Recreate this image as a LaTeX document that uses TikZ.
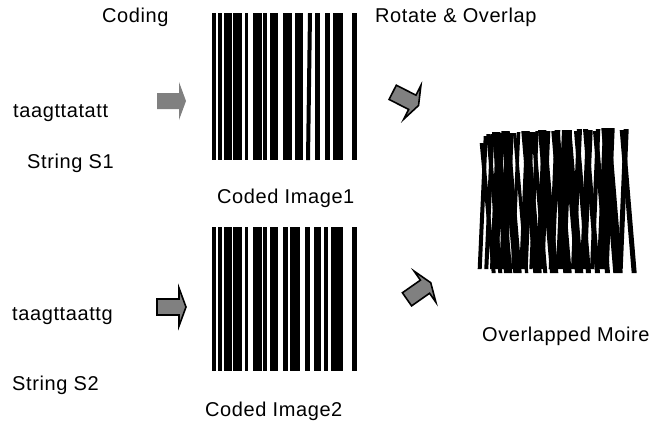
\documentclass[tikz,border=0pt]{standalone}
\usepackage{fontspec}
\setmainfont{Liberation Sans}[LetterSpace=3]
\begin{document}
\begin{tikzpicture}[x=1pt,y=-1pt,
  lbl/.style={anchor=base west, inner sep=0pt, font=\fontsize{20}{22}\selectfont},
  barfill/.style={fill=black},
  plainarrow/.style={fill=black!50, draw=none},
  framedarrow/.style={fill=black!50, draw=black, line width=1.6pt, line join=miter},
  pics/fatarrow/.style={code={
    \path[pic actions] (-22,-8) -- (0,-8) -- (0,-19) -- (7,0) -- (0,19) -- (0,8) -- (-22,8) -- cycle;}}
]
\useasboundingbox (0,0) rectangle (664,426);

% texts
\node[lbl] (coding) at (102,22.7) {Coding};
\node[lbl] (rotate) at (375,22.7) {Rotate \& Overlap};
\node[lbl] (s1) at (13,117) {taagttatatt};
\node[lbl] (s1lbl) at (27,168) {String S1};
\node[lbl] (img1lbl) at (217,203) {Coded Image1};
\node[lbl] (s2) at (12,320) {taagttaattg};
\node[lbl] (s2lbl) at (12,390) {String S2};
\node[lbl] (img2lbl) at (205,416) {Coded Image2};
\node[lbl] (moirelbl) at (482,341.7) {Overlapped Moire};

% coded image 1
\foreach \a/\b in {211.7/215.7, 218.3/222.3, 224/232.3, 233.3/241.7, 245/248.3, 253.3/261.7, 263.3/267.3, 270/278.3, 283.3/291.7, 295/303.3, 315/320, 325/330, 333.3/342.7, 351.7/356.7}
  \fill[barfill] (\a,13) rectangle (\b,160);
\fill[barfill] (308,13) -- (312,13) -- (310,160) -- (306,160) -- cycle;

% coded image 2
\foreach \a/\b in {211.7/215.7, 218.3/222.3, 224/232.3, 233.3/241.7, 245/248.3, 253.3/261.7, 263.3/266.7, 270/278.3, 282.7/288.3, 290/300, 305/310, 314/320.7, 324/328.3, 331/342.7, 351.7/356.7}
  \fill[barfill] (\a,226.7) rectangle (\b,371);

% overlapped moire: image 1 rotated one way
\foreach \a/\b/\t in {211.7/215.7/143, 218.3/222.3/134, 224/232.3/132, 233.3/241.7/131, 245/248.3/133, 253.3/261.7/131, 263.3/267.3/132, 270/278.3/130, 283.3/291.7/131, 295/303.3/130, 306/311/131, 315/320/129, 325/330/131, 333.3/342.7/128, 351.7/356.7/130}
  \fill[barfill] (\a+268,\t) -- (\b+268,\t) -- (\b+280,273) -- (\a+280,273) -- cycle;
% image 2 rotated the other way
\foreach \a/\b/\t in {211.7/215.7/136, 218.3/222.3/134, 224/232.3/133, 233.3/241.7/133, 245/248.3/132, 253.3/261.7/132, 263.3/266.7/131, 270/278.3/131, 282.7/288.3/130, 290/300/130, 305/310/129, 314/320.7/130, 324/328.3/129, 331/342.7/128, 351.7/356.7/129}
  \fill[barfill] (\a+272,\t) -- (\b+272,\t) -- (\b+266,269) -- (\a+266,269) -- cycle;

% block arrows
\pic[plainarrow] (arr1) at (179,101) {fatarrow};
\pic[framedarrow, rotate=-27] (arr2) at (412.3,102.3) {fatarrow};
\pic[framedarrow] (arr3) at (179,307) {fatarrow};
\pic[framedarrow, rotate=35] (arr4) at (425,286.7) {fatarrow};
\end{tikzpicture}
\end{document}
